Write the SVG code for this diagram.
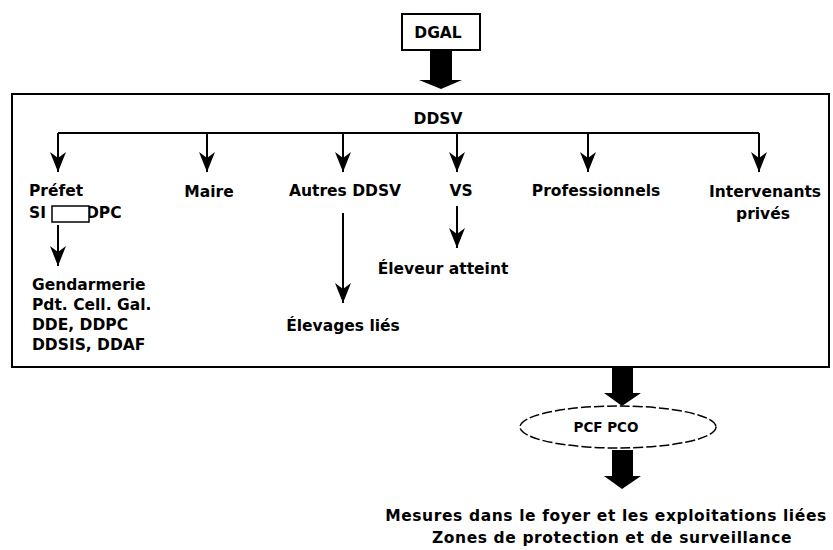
<svg xmlns="http://www.w3.org/2000/svg" width="833" height="550" viewBox="0 0 833 550">
<style>
text{font-family:"DejaVu Sans","Liberation Sans",sans-serif;font-weight:bold;font-size:15.5px;fill:#000}
.c{text-anchor:middle}
.ln{stroke:#000;stroke-width:2;fill:none}
.blk{fill:#000;stroke:none}
.sm{font-size:13.5px}
.bt{font-size:15.5px;letter-spacing:0.6px}
</style>
<defs>
<marker id="ah" markerUnits="userSpaceOnUse" markerWidth="22" markerHeight="16" viewBox="0 0 22 16" refX="21" refY="8" orient="auto">
<path d="M1,0 L21,8 L1,16 L7,8 Z" fill="#000"/>
</marker>
</defs>
<rect width="833" height="550" fill="#fff"/>
<g id="dgal">
<rect x="402" y="14" width="78" height="36" fill="#fff" stroke="#000" stroke-width="2"/>
<text x="438" y="38" class="c">DGAL</text>
</g>
<g id="ddsv-box">
<rect x="12" y="94" width="817" height="273" fill="none" stroke="#000" stroke-width="2"/>
<text x="438" y="124" class="c">DDSV</text>
</g>
<g id="connectors">
<path class="blk" d="M430,50 H452 V80 H462 L441,89 L419,80 H430 Z"/>
<path class="ln" d="M58,133 H759"/>
<path class="ln" d="M58,133 V172" marker-end="url(#ah)"/>
<path class="ln" d="M207,133 V172" marker-end="url(#ah)"/>
<path class="ln" d="M343,133 V172" marker-end="url(#ah)"/>
<path class="ln" d="M457,133 V172" marker-end="url(#ah)"/>
<path class="ln" d="M588,133 V172" marker-end="url(#ah)"/>
<path class="ln" d="M759,133 V172" marker-end="url(#ah)"/>
<path class="ln" d="M58,225 V266" marker-end="url(#ah)"/>
<path class="ln" d="M343,213 V303" marker-end="url(#ah)"/>
<path class="ln" d="M457,206 V248" marker-end="url(#ah)"/>
<path class="blk" d="M612,368 H633 V393 H641 L622,406 L604,393 H612 Z"/>
<path class="blk" d="M612,450 H633 V476 H641 L622,489 L604,476 H612 Z"/>
</g>
<g id="prefet">
<text x="29" y="196">Préfet</text>
<text x="29" y="218">SI</text>
<text x="86" y="218">DPC</text>
<rect x="52" y="206" width="37" height="16" fill="#fff" stroke="#000" stroke-width="1.5"/>
</g>
<g id="maire"><text x="209" y="197" class="c">Maire</text></g>
<g id="autres"><text x="345" y="196" class="c">Autres DDSV</text></g>
<g id="vs"><text x="461" y="196" class="c">VS</text></g>
<g id="pro"><text x="596" y="196" class="c">Professionnels</text></g>
<g id="interv">
<text x="765" y="197" class="c">Intervenants</text>
<text x="763" y="219" class="c">privés</text>
</g>
<g id="gendarmerie">
<text x="32" y="290">Gendarmerie</text>
<text x="32" y="310">Pdt. Cell. Gal.</text>
<text x="32" y="330">DDE, DDPC</text>
<text x="32" y="350">DDSIS, DDAF</text>
</g>
<g id="elevages"><text x="343" y="331" class="c">Élevages liés</text></g>
<g id="eleveur"><text x="443" y="274" class="c">Éleveur atteint</text></g>
<g id="pcf">
<ellipse cx="618" cy="427" rx="98" ry="21" fill="#fff" stroke="#000" stroke-width="1.5" stroke-dasharray="10,3"/>
<text x="606" y="432" class="c sm">PCF PCO</text>
</g>
<g id="mesures">
<text x="606" y="521" class="c bt">Mesures dans le foyer et les exploitations liées</text>
<text x="612" y="543" class="c bt">Zones de protection et de surveillance</text>
</g>
</svg>
